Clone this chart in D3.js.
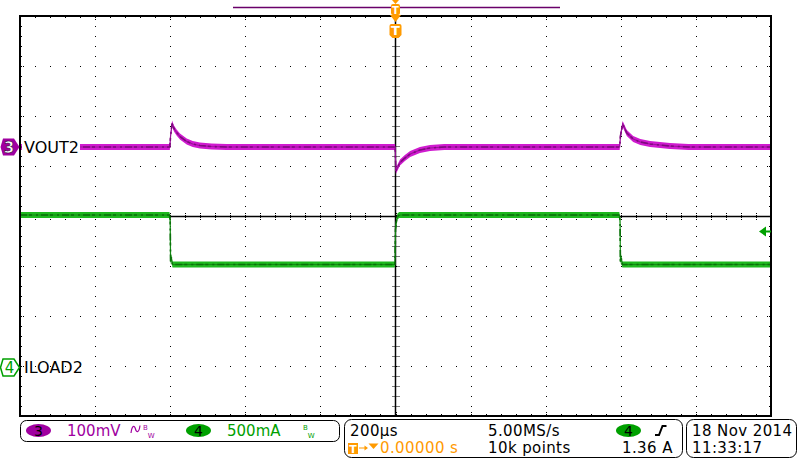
<!DOCTYPE html>
<html>
<head>
<meta charset="utf-8">
<script src="https://cdn.jsdelivr.net/npm/d3@7"></script>
<style>
  body { margin: 0; background: #fff; }
  svg { display: block; font-family: "DejaVu Sans", sans-serif; }
</style>
</head>
<body>
<div id="scope"></div>
<script>
// channel 3 (VOUT2), time in us, deviation in mV
var ch3Time = [-1000, -601, -599, -595, -590, -583, -574, -556, -540, -521, -490, -450,
               -1, 1, 12, 25, 39, 52, 65, 92, 130,
               597, 599, 605, 616, 633, 652, 678, 731, 780, 1000];
var ch3mV   = [0, 0, 22, 47, 37, 29, 21, 11, 6, 3, 1, 0,
               0, -48, -31, -22, -14, -10, -6, -2, 0,
               0, 22, 46, 28, 16, 10, 6, 2, 0, 0];

// channel 4 (ILOAD2), time in us, current in A
var ch4Time = [-1000, -602, -600, -599, -597, -594,
               -2, -1, 0, 2, 5, 10,
               596, 598, 599, 601, 604, 1000];
var ch4A    = [1.525, 1.525, 1.47, 1.06, 1.10, 1.03,
               1.03, 1.12, 1.38, 1.45, 1.51, 1.525,
               1.525, 1.47, 1.06, 1.10, 1.03, 1.03];

// channel settings
var ch3Pos = 1.38, ch3PerDiv = 100;   // mV/div
var ch4Pos = -3.03, ch4PerDiv = 0.5;  // A/div
var trigLevel = 1.36;

var row1 = ["200\u00b5s", "5.00MS/s"];
var row2 = ["0.00000 s", "10k points", "1.36 A"];
var dateText = ["18 Nov 2014", "11:33:17"];

var purple = "#a000a0", green = "#00a000", orange = "#ff9a00";

var width = 800, height = 460;
var svg = d3.select("#scope").append("svg")
    .attr("width", width).attr("height", height);

var x = d3.scaleLinear().domain([-1000, 1000]).range([20, 771]);
var y = d3.scaleLinear().domain([-4, 4]).range([416, 16]);

var majorX = d3.range(-1000, 1001, 200),
    minorX = d3.range(-1000, 1001, 40),
    majorY = d3.range(-4, 5, 1),
    minorY = d3.range(-20, 21).map(function (d) { return d / 5; });

// graticule
var grid = svg.append("g");
majorX.filter(function (d) { return Math.abs(d) != 1000 && d != 0; }).forEach(function (mx) {
    minorY.forEach(function (my) {
        grid.append("rect").attr("x", Math.round(x(mx))).attr("y", Math.round(y(my)))
            .attr("width", 1).attr("height", 1).attr("fill", "#000");
    });
});
majorY.filter(function (d) { return Math.abs(d) != 4 && d != 0; }).forEach(function (my) {
    minorX.forEach(function (mx) {
        grid.append("rect").attr("x", Math.round(x(mx))).attr("y", Math.round(y(my)))
            .attr("width", 1).attr("height", 1).attr("fill", "#000");
    });
});

// edge ticks
minorX.forEach(function (mx, i) {
    var len = i % 5 == 0 ? 4 : 2;
    grid.append("line").attr("x1", Math.round(x(mx)) + 0.5).attr("x2", Math.round(x(mx)) + 0.5)
        .attr("y1", 17).attr("y2", 17 + len).attr("stroke", "#000").attr("stroke-dasharray", "1,1");
    grid.append("line").attr("x1", Math.round(x(mx)) + 0.5).attr("x2", Math.round(x(mx)) + 0.5)
        .attr("y1", 415).attr("y2", 415 - len).attr("stroke", "#000").attr("stroke-dasharray", "1,1");
    // center axis ticks
    grid.append("line").attr("x1", Math.round(x(mx)) + 0.5).attr("x2", Math.round(x(mx)) + 0.5)
        .attr("y1", y(0) - 3).attr("y2", y(0) + 4).attr("stroke", "#000").attr("stroke-dasharray", "1,1");
});
minorY.forEach(function (my, i) {
    var len = i % 5 == 0 ? 4 : 2;
    grid.append("line").attr("y1", Math.round(y(my)) + 0.5).attr("y2", Math.round(y(my)) + 0.5)
        .attr("x1", 21).attr("x2", 21 + len).attr("stroke", "#000").attr("stroke-dasharray", "1,1");
    grid.append("line").attr("y1", Math.round(y(my)) + 0.5).attr("y2", Math.round(y(my)) + 0.5)
        .attr("x1", 770).attr("x2", 770 - len).attr("stroke", "#000").attr("stroke-dasharray", "1,1");
    grid.append("line").attr("y1", Math.round(y(my)) + 0.5).attr("y2", Math.round(y(my)) + 0.5)
        .attr("x1", x(0) - 3).attr("x2", x(0) + 4).attr("stroke", "#000").attr("stroke-dasharray", "1,1");
});

grid.append("line").attr("x1", 20).attr("x2", 771).attr("y1", y(0) + 0.5).attr("y2", y(0) + 0.5)
    .attr("stroke", "#000").attr("stroke-width", 1.5);
grid.append("line").attr("x1", x(0)).attr("x2", x(0)).attr("y1", 16).attr("y2", 416)
    .attr("stroke", "#000").attr("stroke-width", 1.5);
grid.append("rect").attr("x", 20).attr("y", 16).attr("width", 751).attr("height", 400)
    .attr("fill", "none").attr("stroke", "#000").attr("stroke-width", 2);

// traces: a noise band drawn as an area around the waveform, thin line on top
svg.append("clipPath").attr("id", "plotclip")
    .append("rect").attr("x", 21).attr("y", 17).attr("width", 749).attr("height", 398);

function yv3(d) { return y(ch3Pos + d / ch3PerDiv); }
function yv4(d) { return y(ch4Pos + d / ch4PerDiv); }

var band3 = d3.area()
    .x(function (d, i) { return x(ch3Time[i]); })
    .y0(function (d) { return yv3(d) + 3; })
    .y1(function (d) { return yv3(d) - 3; });
var line3 = d3.line()
    .x(function (d, i) { return x(ch3Time[i]); })
    .y(yv3);
var band4 = d3.area()
    .x(function (d, i) { return x(ch4Time[i]); })
    .y0(function (d) { return yv4(d) + 3; })
    .y1(function (d) { return yv4(d) - 3; });
var line4 = d3.line()
    .x(function (d, i) { return x(ch4Time[i]); })
    .y(yv4);

var traces = svg.append("g").attr("clip-path", "url(#plotclip)");
traces.append("path").attr("d", band4(ch4A)).attr("fill", "#1fb81f");
traces.append("path").attr("d", line4(ch4A)).attr("fill", "none")
    .attr("stroke", "#138a13").attr("stroke-width", 1.2);
traces.append("path").attr("d", line4(ch4A)).attr("fill", "none")
    .attr("stroke", "#0b700b").attr("stroke-width", 1.6).attr("stroke-dasharray", "7,2,3,4,2,3");
traces.append("path").attr("d", band3(ch3mV)).attr("fill", "#cf1bcf");
traces.append("path").attr("d", line3(ch3mV)).attr("fill", "none")
    .attr("stroke", "#9a129a").attr("stroke-width", 1.2);
traces.append("path").attr("d", line3(ch3mV)).attr("fill", "none")
    .attr("stroke", "#7e0a7e").attr("stroke-width", 1.6).attr("stroke-dasharray", "7,2,3,4,2,3");

// channel labels
var y3 = y(ch3Pos), y4 = y(ch4Pos);
svg.append("rect").attr("x", 22).attr("y", y3 - 9).attr("width", 58).attr("height", 17).attr("fill", "#fff");
svg.append("text").attr("x", 24).attr("y", y3 + 5.5).attr("font-size", 16).text("VOUT2");
svg.append("text").attr("x", 24).attr("y", y4 + 5.5).attr("font-size", 16).text("ILOAD2");

function badge(cy) {
    return "M3," + (cy - 8.5) + " L14," + (cy - 8.5) + " L19.5," + cy + " L14," + (cy + 8.5) +
        " L3," + (cy + 8.5) + " L0.5," + cy + " Z";
}
svg.append("path").attr("d", badge(y3)).attr("fill", purple);
svg.append("text").attr("x", 9).attr("y", y3 + 5.5).attr("text-anchor", "middle")
    .attr("font-size", 15).attr("font-weight", "bold").attr("fill", "#fff")
    .attr("stroke", "#300030").attr("stroke-width", 0.6).text("3");
svg.append("path").attr("d", badge(y4)).attr("fill", "#fff").attr("stroke", green).attr("stroke-width", 1.5);
svg.append("text").attr("x", 9.5).attr("y", y4 + 5.5).attr("text-anchor", "middle")
    .attr("font-size", 15).attr("fill", green).text("4");

// trigger level arrow
var yt = y(ch4Pos + trigLevel / ch4PerDiv);
svg.append("path").attr("d", "M759," + yt + " L766," + (yt - 5) + " L766," + (yt + 5) + " Z").attr("fill", green);
svg.append("line").attr("x1", 764).attr("x2", 771).attr("y1", yt).attr("y2", yt)
    .attr("stroke", green).attr("stroke-width", 2);

// record bar and trigger markers
svg.append("line").attr("x1", 233).attr("x2", 560).attr("y1", 7.5).attr("y2", 7.5)
    .attr("stroke", "#6a006a").attr("stroke-width", 1.5);
var tx = x(0);
svg.append("path").attr("d", "M" + (tx - 3.5) + ",0 L" + (tx + 3.5) + ",0 L" + tx + ",4 Z").attr("fill", orange);
svg.append("rect").attr("x", tx - 4.5).attr("y", 4).attr("width", 9).attr("height", 11).attr("rx", 2).attr("fill", orange);
svg.append("path").attr("d", "M" + (tx - 5.5) + ",15 L" + (tx + 5.5) + ",15 L" + tx + ",22 Z").attr("fill", orange);
svg.append("text").attr("x", tx).attr("y", 13.5).attr("text-anchor", "middle").attr("font-size", 10)
    .attr("font-weight", "bold").attr("fill", "#fff").text("T");
svg.append("path").attr("d", "M" + (tx - 6) + ",26 Q" + (tx - 6) + ",24 " + (tx - 4) + ",24 L" + (tx + 4) + ",24 Q" +
    (tx + 6) + ",24 " + (tx + 6) + ",26 L" + (tx + 6) + ",35 L" + (tx + 3) + ",38 L" + (tx - 3) + ",38 L" + (tx - 6) + ",35 Z")
    .attr("fill", orange);
svg.append("text").attr("x", tx).attr("y", 35).attr("text-anchor", "middle").attr("font-size", 13)
    .attr("font-weight", "bold").attr("fill", "#fff").text("T");

// readout bar
var bar = svg.append("g");
bar.append("rect").attr("x", 20.5).attr("y", 420.5).attr("width", 319).attr("height", 21).attr("rx", 6)
    .attr("fill", "none").attr("stroke", "#000");
bar.append("rect").attr("x", 344.5).attr("y", 419.5).attr("width", 338).attr("height", 38).attr("rx", 7)
    .attr("fill", "none").attr("stroke", "#000");
bar.append("rect").attr("x", 686.5).attr("y", 419.5).attr("width", 110).attr("height", 38).attr("rx", 7)
    .attr("fill", "none").attr("stroke", "#000");

function pill(cx, label) {
    bar.append("ellipse").attr("cx", cx).attr("cy", 430.5).attr("rx", 12.5).attr("ry", 6.5).attr("fill", label.c);
    bar.append("text").attr("x", cx).attr("y", 435.5).attr("text-anchor", "middle")
        .attr("font-size", 14).attr("fill", "#000").text(label.t);
}
function bw(x0, col) {
    bar.append("text").attr("x", x0).attr("y", 430).attr("font-size", 7).attr("fill", col).text("B");
    bar.append("text").attr("x", x0 + 4.8).attr("y", 437.5).attr("font-size", 7).attr("fill", col).text("W");
}
pill(38.5, { c: purple, t: "3" });
bar.append("text").attr("x", 67).attr("y", 436).attr("font-size", 15).attr("fill", purple).text("100mV");
bar.append("path").attr("d", "M131,433 C132,425 134.5,425 135.5,429 C136.5,433 139,433 140,425.5")
    .attr("fill", "none").attr("stroke", purple).attr("stroke-width", 1.2);
bw(143, purple);
pill(198.5, { c: green, t: "4" });
bar.append("text").attr("x", 227).attr("y", 436).attr("font-size", 15).attr("fill", green).text("500mA");
bw(303, green);

var info = bar.append("g").attr("font-size", 15).attr("letter-spacing", 0.4);
info.append("text").attr("x", 350).attr("y", 436).text(row1[0]);
info.append("text").attr("x", 488).attr("y", 436).text(row1[1]);
pill(628.5, { c: green, t: "4" });
bar.append("path").attr("d", "M655,435 L659,435 L662.5,426 L666.5,426")
    .attr("fill", "none").attr("stroke", "#000").attr("stroke-width", 2);

bar.append("rect").attr("x", 348).attr("y", 443).attr("width", 10).attr("height", 11).attr("fill", orange);
bar.append("text").attr("x", 353).attr("y", 452.5).attr("text-anchor", "middle").attr("font-size", 11)
    .attr("font-weight", "bold").attr("fill", "#fff").text("T");
bar.append("line").attr("x1", 359).attr("x2", 366).attr("y1", 448).attr("y2", 448).attr("stroke", orange);
bar.append("path").attr("d", "M368,448 L364.5,445.5 L364.5,450.5 Z").attr("fill", orange);
bar.append("path").attr("d", "M368.5,443.5 L378.5,443.5 L373.5,449 Z").attr("fill", orange);
info.append("text").attr("x", 380).attr("y", 453).attr("fill", orange).text(row2[0]);
info.append("text").attr("x", 488).attr("y", 453).text(row2[1]);
info.append("text").attr("x", 622).attr("y", 453).text(row2[2]);
info.append("text").attr("x", 692).attr("y", 436).text(dateText[0]);
info.append("text").attr("x", 692).attr("y", 453).text(dateText[1]);
</script>
</body>
</html>
